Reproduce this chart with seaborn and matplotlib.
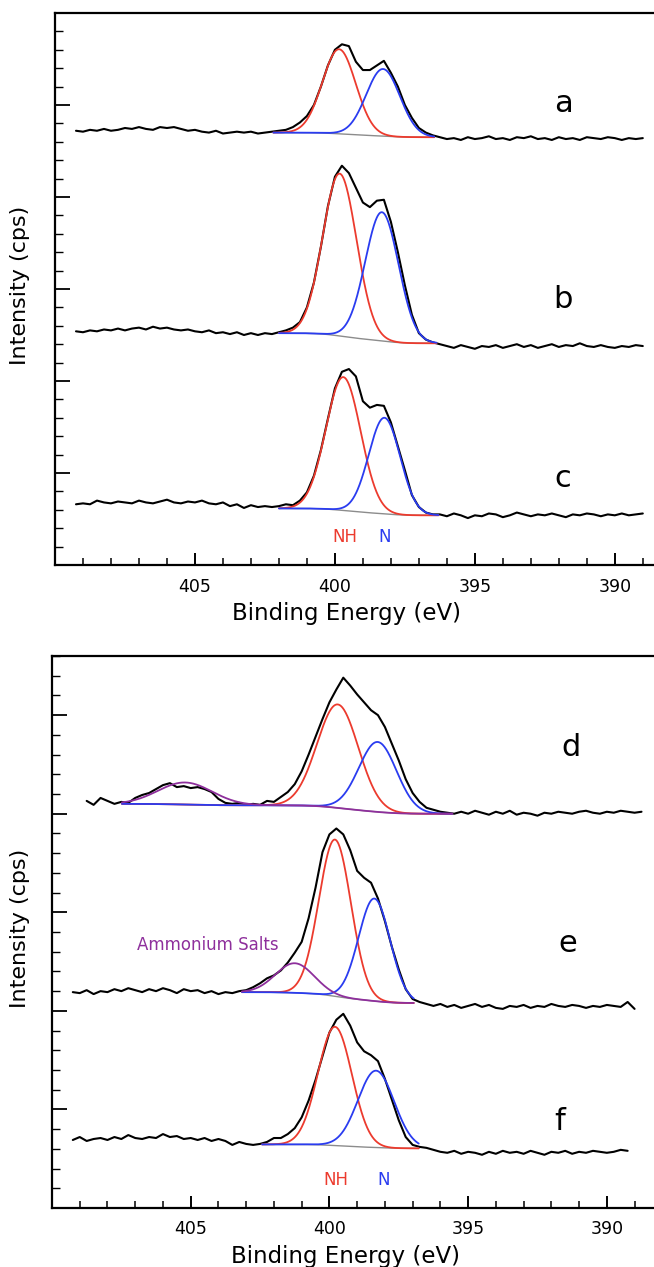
import numpy as np
import pandas as pd
import matplotlib
matplotlib.use("Agg")
import matplotlib.pyplot as plt
import seaborn as sns
from matplotlib.ticker import FixedLocator, MultipleLocator

STEP = 0.25  # eV between samples of the measured spectra

# ---------------- measured N 1s spectra (offset intensity units) ----------------
start_a = 409.25
spec_a = [4.72,
          4.71, 4.73, 4.72, 4.74, 4.72, 4.73, 4.75, 4.74, 4.76, 4.74, 4.73, 4.76,
          4.75, 4.76, 4.74, 4.72, 4.73, 4.71, 4.70, 4.72, 4.69, 4.70, 4.71, 4.70,
          4.71, 4.69, 4.70, 4.71, 4.72, 4.73, 4.76, 4.81, 4.88, 5.00, 5.20, 5.43,
          5.60, 5.66, 5.64, 5.47, 5.38, 5.38, 5.43, 5.48, 5.35, 5.20, 5.00, 4.86,
          4.75, 4.70, 4.67, 4.65, 4.63, 4.64, 4.62, 4.65, 4.63, 4.64, 4.66, 4.63,
          4.64, 4.62, 4.65, 4.64, 4.66, 4.63, 4.64, 4.62, 4.65, 4.63, 4.64, 4.62,
          4.65, 4.64, 4.63, 4.65, 4.64, 4.62, 4.64, 4.63, 4.64]

start_b = 409.25
spec_b = [2.54,
          2.53, 2.55, 2.54, 2.56, 2.55, 2.57, 2.55, 2.57, 2.58, 2.56, 2.59, 2.57,
          2.58, 2.56, 2.55, 2.56, 2.54, 2.53, 2.55, 2.52, 2.53, 2.51, 2.53, 2.50,
          2.52, 2.50, 2.52, 2.51, 2.53, 2.55, 2.58, 2.64, 2.80, 3.07, 3.46, 3.90,
          4.22, 4.34, 4.26, 4.10, 3.94, 3.89, 3.96, 3.97, 3.73, 3.40, 3.04, 2.72,
          2.52, 2.45, 2.42, 2.40, 2.38, 2.36, 2.39, 2.37, 2.35, 2.38, 2.37, 2.39,
          2.36, 2.38, 2.40, 2.37, 2.39, 2.36, 2.38, 2.40, 2.37, 2.39, 2.38, 2.41,
          2.38, 2.37, 2.39, 2.37, 2.36, 2.38, 2.37, 2.39, 2.38]

start_c = 409.25
spec_c = [0.66,
          0.67, 0.66, 0.70, 0.68, 0.67, 0.69, 0.68, 0.67, 0.70, 0.68, 0.67, 0.69,
          0.71, 0.68, 0.67, 0.69, 0.68, 0.70, 0.67, 0.66, 0.68, 0.64, 0.66, 0.62,
          0.65, 0.63, 0.64, 0.63, 0.64, 0.66, 0.65, 0.70, 0.79, 0.97, 1.25, 1.59,
          1.92, 2.10, 2.13, 2.05, 1.78, 1.71, 1.74, 1.73, 1.55, 1.29, 1.03, 0.76,
          0.63, 0.57, 0.55, 0.55, 0.53, 0.56, 0.54, 0.51, 0.54, 0.53, 0.56, 0.55,
          0.52, 0.54, 0.57, 0.55, 0.53, 0.55, 0.54, 0.56, 0.54, 0.52, 0.55, 0.54,
          0.56, 0.55, 0.53, 0.55, 0.54, 0.56, 0.54, 0.55, 0.56]

start_d = 408.75
spec_d = [4.13, 4.09, 4.16,
          4.13, 4.10, 4.12, 4.11, 4.16, 4.19, 4.21, 4.25, 4.29, 4.31, 4.27, 4.28,
          4.26, 4.27, 4.25, 4.22, 4.15, 4.11, 4.10, 4.11, 4.09, 4.10, 4.09, 4.13,
          4.12, 4.17, 4.22, 4.30, 4.43, 4.60, 4.78, 4.96, 5.13, 5.26, 5.38, 5.30,
          5.21, 5.13, 5.05, 5.00, 4.88, 4.71, 4.54, 4.35, 4.21, 4.12, 4.06, 4.04,
          4.02, 4.01, 4.00, 4.02, 4.00, 4.03, 4.01, 3.99, 4.02, 4.00, 4.03, 3.99,
          4.01, 4.00, 3.98, 4.01, 4.00, 4.02, 4.01, 4.00, 4.02, 4.03, 4.01, 4.00,
          4.02, 4.01, 4.03, 4.02, 4.01, 4.02]

start_e = 409.25
spec_e = [2.19,
          2.18, 2.21, 2.17, 2.20, 2.19, 2.22, 2.20, 2.23, 2.21, 2.19, 2.22, 2.20,
          2.23, 2.21, 2.18, 2.22, 2.20, 2.21, 2.18, 2.20, 2.17, 2.19, 2.18, 2.20,
          2.21, 2.24, 2.28, 2.33, 2.36, 2.41, 2.49, 2.59, 2.70, 2.94, 3.25, 3.61,
          3.79, 3.85, 3.79, 3.63, 3.42, 3.35, 3.30, 3.14, 2.91, 2.65, 2.42, 2.22,
          2.12, 2.09, 2.07, 2.05, 2.07, 2.04, 2.06, 2.03, 2.05, 2.07, 2.04, 2.06,
          2.03, 2.02, 2.05, 2.04, 2.06, 2.03, 2.05, 2.04, 2.07, 2.05, 2.04, 2.06,
          2.05, 2.03, 2.05, 2.04, 2.06, 2.05, 2.04, 2.09, 2.02]

start_f = 409.25
spec_f = [0.69,
          0.72, 0.68, 0.70, 0.71, 0.69, 0.72, 0.70, 0.74, 0.71, 0.70, 0.72, 0.71,
          0.75, 0.72, 0.73, 0.70, 0.71, 0.69, 0.71, 0.68, 0.70, 0.68, 0.64, 0.67,
          0.65, 0.64, 0.65, 0.67, 0.71, 0.71, 0.75, 0.81, 0.92, 1.09, 1.30, 1.54,
          1.78, 1.91, 1.97, 1.85, 1.68, 1.59, 1.55, 1.49, 1.31, 1.10, 0.89, 0.72,
          0.64, 0.62, 0.61, 0.59, 0.57, 0.56, 0.58, 0.55, 0.57, 0.56, 0.54, 0.57,
          0.55, 0.58, 0.56, 0.57, 0.55, 0.58, 0.56, 0.54, 0.57, 0.56, 0.58, 0.55,
          0.57, 0.56, 0.58, 0.57, 0.56, 0.57, 0.59, 0.58]

# ---------------- fitted components: (centre eV, height, FWHM eV) ----------------
nh_a, n_a = (399.85, 0.92, 1.40), (398.28, 0.73, 1.42)
nh_b, n_b = (399.83, 1.765, 1.42), (398.32, 1.40, 1.40)
nh_c, n_c = (399.70, 1.45, 1.46), (398.23, 1.045, 1.32)
nh_d, n_d, salt_d = (399.70, 1.05, 1.75), (398.26, 0.71, 1.60), (405.20, 0.224, 2.30)
nh_e, n_e, salt_e = (399.80, 1.59, 1.36), (398.38, 1.04, 1.34), (401.25, 0.30, 1.63)
nh_f, n_f = (399.80, 1.205, 1.44), (398.32, 0.78, 1.54)

# fit windows (high BE, low BE) and background levels (left, right)
win_a, bkg_a = (402.20, 396.45), (4.70, 4.65)
win_b, bkg_b = (402.00, 396.37), (2.52, 2.41)
win_c, bkg_c = (402.00, 396.30), (0.615, 0.54)
win_d, bkg_d = (407.48, 395.57), (4.10, 4.00)
win_e, bkg_e = (403.15, 396.96), (2.19, 2.08)
win_f, bkg_f = (402.43, 396.78), (0.645, 0.605)

panel_letters_top = ["a", "b", "c"]
panel_letters_bot = ["d", "e", "f"]
xticks = [405, 400, 395, 390]

RED, BLUE, PURPLE, GREY = "#ec3b2e", "#2a3cf0", "#8e2f9c", "#8c8c8c"

sns.set_theme(style="ticks")
plt.rcParams["font.family"] = ["DejaVu Sans"]
plt.rcParams.update({"text.color": "black", "axes.labelcolor": "black",
                     "xtick.color": "black", "ytick.color": "black"})

fig = plt.figure(figsize=(6.54, 12.67), dpi=100)
ax1 = fig.add_axes([55/654, (1267-565)/1267, 599/654, 552/1267])
ax2 = fig.add_axes([52/654, (1267-1208)/1267, 602/654, 552/1267])


def gauss(E, p):
    c, h, w = p
    return h * np.exp(-4*np.log(2)*(E - c)**2 / w**2)


def draw_spectrum(ax, start, vals):
    E = start - STEP*np.arange(len(vals))
    df = pd.DataFrame({"E": E, "I": vals})
    sns.lineplot(data=df, x="E", y="I", ax=ax, color="black", lw=1.5,
                 estimator=None, sort=False, zorder=3)


def draw_fit(ax, win, bkg, peaks, colors):
    E = np.linspace(win[0], win[1], 600)
    g = [gauss(E, p) for p in peaks]
    tot = np.sum(g, axis=0)
    cum = np.cumsum(tot[::-1])[::-1]
    base = bkg[1] + (bkg[0] - bkg[1]) * cum / cum[0]
    sns.lineplot(x=E, y=base, ax=ax, color=GREY, lw=1.0, estimator=None,
                 sort=False, zorder=4)
    for gi, col in zip(g, colors):
        sns.lineplot(x=E, y=base + gi, ax=ax, color=col, lw=1.3,
                     estimator=None, sort=False, zorder=5)


draw_spectrum(ax1, start_a, spec_a)
draw_spectrum(ax1, start_b, spec_b)
draw_spectrum(ax1, start_c, spec_c)
draw_fit(ax1, win_a, bkg_a, [nh_a, n_a], [RED, BLUE])
draw_fit(ax1, win_b, bkg_b, [nh_b, n_b], [RED, BLUE])
draw_fit(ax1, win_c, bkg_c, [nh_c, n_c], [RED, BLUE])

draw_spectrum(ax2, start_d, spec_d)
draw_spectrum(ax2, start_e, spec_e)
draw_spectrum(ax2, start_f, spec_f)
draw_fit(ax2, win_d, bkg_d, [nh_d, n_d, salt_d], [RED, BLUE, PURPLE])
draw_fit(ax2, win_e, bkg_e, [nh_e, n_e, salt_e], [RED, BLUE, PURPLE])
draw_fit(ax2, win_f, bkg_f, [nh_f, n_f], [RED, BLUE])

ax1.set_xlim(410, 388.6)
ax1.set_ylim(0, 6)
ax2.set_xlim(410, 388.3)
ax2.set_ylim(0, 5.6)

for ax in (ax1, ax2):
    ax.xaxis.set_major_locator(FixedLocator(xticks))
    ax.xaxis.set_minor_locator(FixedLocator(list(range(389, 410))))
    ax.yaxis.set_major_locator(MultipleLocator(1))
    ax.yaxis.set_minor_locator(MultipleLocator(0.2))
    ax.tick_params(axis="x", which="major", direction="in", length=9, width=1.4,
                   labelsize=12.5, pad=9, top=False)
    ax.tick_params(axis="x", which="minor", direction="in", length=5, width=1.1,
                   top=False)
    ax.tick_params(axis="y", which="major", direction="in", length=11, width=1.3,
                   labelleft=False, right=False)
    ax.tick_params(axis="y", which="minor", direction="in", length=6, width=1.0,
                   right=False)
    for s in ("left", "bottom", "top"):
        ax.spines[s].set_linewidth(1.6)
        ax.spines[s].set_color("black")
    ax.spines["right"].set_visible(False)
    ax.set_xlabel("Binding Energy (eV)", fontsize=16.5)
    ax.xaxis.set_label_coords(0.487, -0.087)
    ax.xaxis.label.set_va("center")
    ax.set_ylabel("")

fig.text(20/654, 1 - 285/1267, "Intensity (cps)", rotation=90, ha="center",
         va="center", fontsize=16)
fig.text(20/654, 1 - 928/1267, "Intensity (cps)", rotation=90, ha="center",
         va="center", fontsize=16)

for lab, y in zip(panel_letters_top, [4.92, 2.79, 0.85]):
    ax1.text(391.85, y, lab, fontsize=22, ha="center", va="baseline")
for xl, lab, y in zip([391.3, 391.4, 391.7], panel_letters_bot, [4.59, 2.60, 0.79]):
    ax2.text(xl, y, lab, fontsize=22, ha="center", va="baseline")

ax1.text(399.64, 0.25, "NH", color=RED, fontsize=12, ha="center", va="baseline")
ax1.text(398.21, 0.25, "N", color=BLUE, fontsize=12, ha="center", va="baseline")
ax2.text(399.75, 0.233, "NH", color=RED, fontsize=12, ha="center", va="baseline")
ax2.text(398.03, 0.233, "N", color=BLUE, fontsize=12, ha="center", va="baseline")
ax2.text(404.37, 2.62, "Ammonium Salts", color=PURPLE, fontsize=12,
         ha="center", va="baseline")

fig.savefig("out.png", dpi=100)
